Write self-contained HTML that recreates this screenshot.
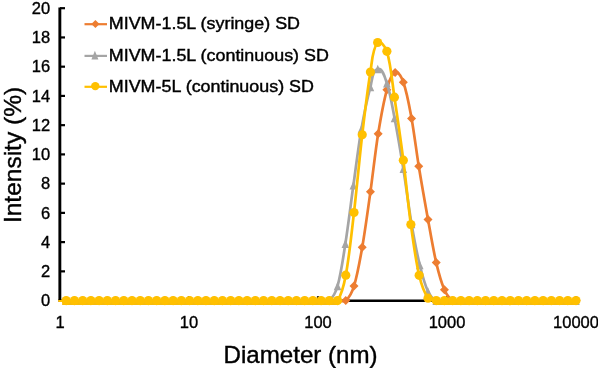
<!DOCTYPE html><html><head><meta charset="utf-8"><title>Intensity vs Diameter</title><style>html,body{margin:0;padding:0;background:#fff}</style></head><body><svg width="598" height="368" viewBox="0 0 598 368" style="display:block;font-family:'Liberation Sans',Arial,Helvetica,sans-serif">
<rect width="598" height="368" fill="#fff"/>
<g stroke="#000" stroke-width="2.9" fill="none">
<path d="M58.4 300.7H577.3" stroke-width="2.4"/>
</g><g stroke="#000" stroke-width="2.2" fill="none">
<path d="M60 300.60H65"/>
<path d="M60 271.36H65"/>
<path d="M60 242.12H65"/>
<path d="M60 212.88H65"/>
<path d="M60 183.64H65"/>
<path d="M60 154.40H65"/>
<path d="M60 125.16H65"/>
<path d="M60 95.92H65"/>
<path d="M60 66.68H65"/>
<path d="M60 37.44H65"/>
<path d="M60 8.20H65"/>
<path d="M189.00 300.7V296.2"/>
<path d="M318.00 300.7V296.2"/>
<path d="M447.00 300.7V296.2"/>
<path d="M576.00 300.7V296.2"/>
</g>
<g font-size="16.5" fill="#000" stroke="#000" stroke-width="0.35" text-anchor="end">
<text x="50.1" y="306.30">0</text>
<text x="50.1" y="277.06">2</text>
<text x="50.1" y="247.82">4</text>
<text x="50.1" y="218.58">6</text>
<text x="50.1" y="189.34">8</text>
<text x="50.1" y="160.10">10</text>
<text x="50.1" y="130.86">12</text>
<text x="50.1" y="101.62">14</text>
<text x="50.1" y="72.38">16</text>
<text x="50.1" y="43.14">18</text>
<text x="50.1" y="13.90">20</text>
</g>
<g font-size="16.5" fill="#000" stroke="#000" stroke-width="0.35" text-anchor="middle">
<text x="60.00" y="327.5">1</text>
<text x="189.00" y="327.5">10</text>
<text x="318.00" y="327.5">100</text>
<text x="447.00" y="327.5">1000</text>
<text x="576.00" y="327.5">10000</text>
</g>
<text x="300.6" y="362.5" font-size="24.1" text-anchor="middle" fill="#000" stroke="#000" stroke-width="0.4">Diameter (nm)</text>
<text transform="translate(20.6 155.0) rotate(-90)" font-size="24.5" text-anchor="middle" fill="#000" stroke="#000" stroke-width="0.4">Intensity (%)</text>
<path d="M58.4 300.60L66.20 300.60L74.44 300.60L82.68 300.60L90.90 300.60L99.11 300.60L107.34 300.60L115.56 300.60L123.78 300.60L132.00 300.60L140.23 300.60L148.45 300.60L156.67 300.60L164.89 300.60L173.11 300.60L181.33 300.60L189.56 300.60L197.80 300.60L205.98 300.60L214.24 300.60L222.46 300.60L230.67 300.60L238.88 300.60L247.10 300.60L255.33 300.60L263.56 300.60L271.78 300.60L280.00 300.60L288.22 300.60L296.44 300.60L304.67 300.60L312.89 300.60L321.11 300.60L329.32 300.60L337.57 300.60C340.03 300.60 343.94 302.23 345.78 300.60C349.53 297.29 352.52 290.88 353.99 286.10C357.50 274.73 360.18 259.02 362.22 247.30C365.12 230.69 368.10 208.40 370.44 191.70C372.88 174.32 375.37 151.03 378.16 133.70C380.30 120.44 383.31 102.74 386.89 89.80C388.43 84.23 389.88 74.82 395.12 72.40C398.60 70.79 402.05 78.59 403.34 82.20C407.09 92.69 409.55 107.45 411.56 118.40C414.18 132.69 416.44 151.96 418.77 166.30C421.37 182.26 425.12 203.49 428.00 219.40C430.35 232.38 433.22 249.75 436.22 262.60C438.16 270.90 441.06 281.97 444.44 289.80C446.06 293.53 449.24 298.37 452.64 300.60C454.71 301.96 458.41 300.60 460.87 300.60L469.11 300.60L477.32 300.60L485.55 300.60L493.78 300.60L502.00 300.60L510.22 300.60L518.45 300.60L526.66 300.60L534.89 300.60L543.11 300.60L551.34 300.60L559.55 300.60L567.78 300.60L576.00 300.60" fill="none" stroke="#ED7D31" stroke-width="2.7" stroke-linejoin="round" stroke-linecap="butt"/>
<g fill="#ED7D31"><path d="M66.20 296.10l4.50 4.50l-4.50 4.50l-4.50 -4.50z"/><path d="M74.44 296.10l4.50 4.50l-4.50 4.50l-4.50 -4.50z"/><path d="M82.68 296.10l4.50 4.50l-4.50 4.50l-4.50 -4.50z"/><path d="M90.90 296.10l4.50 4.50l-4.50 4.50l-4.50 -4.50z"/><path d="M99.11 296.10l4.50 4.50l-4.50 4.50l-4.50 -4.50z"/><path d="M107.34 296.10l4.50 4.50l-4.50 4.50l-4.50 -4.50z"/><path d="M115.56 296.10l4.50 4.50l-4.50 4.50l-4.50 -4.50z"/><path d="M123.78 296.10l4.50 4.50l-4.50 4.50l-4.50 -4.50z"/><path d="M132.00 296.10l4.50 4.50l-4.50 4.50l-4.50 -4.50z"/><path d="M140.23 296.10l4.50 4.50l-4.50 4.50l-4.50 -4.50z"/><path d="M148.45 296.10l4.50 4.50l-4.50 4.50l-4.50 -4.50z"/><path d="M156.67 296.10l4.50 4.50l-4.50 4.50l-4.50 -4.50z"/><path d="M164.89 296.10l4.50 4.50l-4.50 4.50l-4.50 -4.50z"/><path d="M173.11 296.10l4.50 4.50l-4.50 4.50l-4.50 -4.50z"/><path d="M181.33 296.10l4.50 4.50l-4.50 4.50l-4.50 -4.50z"/><path d="M189.56 296.10l4.50 4.50l-4.50 4.50l-4.50 -4.50z"/><path d="M197.80 296.10l4.50 4.50l-4.50 4.50l-4.50 -4.50z"/><path d="M205.98 296.10l4.50 4.50l-4.50 4.50l-4.50 -4.50z"/><path d="M214.24 296.10l4.50 4.50l-4.50 4.50l-4.50 -4.50z"/><path d="M222.46 296.10l4.50 4.50l-4.50 4.50l-4.50 -4.50z"/><path d="M230.67 296.10l4.50 4.50l-4.50 4.50l-4.50 -4.50z"/><path d="M238.88 296.10l4.50 4.50l-4.50 4.50l-4.50 -4.50z"/><path d="M247.10 296.10l4.50 4.50l-4.50 4.50l-4.50 -4.50z"/><path d="M255.33 296.10l4.50 4.50l-4.50 4.50l-4.50 -4.50z"/><path d="M263.56 296.10l4.50 4.50l-4.50 4.50l-4.50 -4.50z"/><path d="M271.78 296.10l4.50 4.50l-4.50 4.50l-4.50 -4.50z"/><path d="M280.00 296.10l4.50 4.50l-4.50 4.50l-4.50 -4.50z"/><path d="M288.22 296.10l4.50 4.50l-4.50 4.50l-4.50 -4.50z"/><path d="M296.44 296.10l4.50 4.50l-4.50 4.50l-4.50 -4.50z"/><path d="M304.67 296.10l4.50 4.50l-4.50 4.50l-4.50 -4.50z"/><path d="M312.89 296.10l4.50 4.50l-4.50 4.50l-4.50 -4.50z"/><path d="M321.11 296.10l4.50 4.50l-4.50 4.50l-4.50 -4.50z"/><path d="M329.32 296.10l4.50 4.50l-4.50 4.50l-4.50 -4.50z"/><path d="M337.57 296.10l4.50 4.50l-4.50 4.50l-4.50 -4.50z"/><path d="M345.78 296.10l4.50 4.50l-4.50 4.50l-4.50 -4.50z"/><path d="M353.99 281.60l4.50 4.50l-4.50 4.50l-4.50 -4.50z"/><path d="M362.22 242.80l4.50 4.50l-4.50 4.50l-4.50 -4.50z"/><path d="M370.44 187.20l4.50 4.50l-4.50 4.50l-4.50 -4.50z"/><path d="M378.16 129.20l4.50 4.50l-4.50 4.50l-4.50 -4.50z"/><path d="M386.89 85.30l4.50 4.50l-4.50 4.50l-4.50 -4.50z"/><path d="M395.12 67.90l4.50 4.50l-4.50 4.50l-4.50 -4.50z"/><path d="M403.34 77.70l4.50 4.50l-4.50 4.50l-4.50 -4.50z"/><path d="M411.56 113.90l4.50 4.50l-4.50 4.50l-4.50 -4.50z"/><path d="M418.77 161.80l4.50 4.50l-4.50 4.50l-4.50 -4.50z"/><path d="M428.00 214.90l4.50 4.50l-4.50 4.50l-4.50 -4.50z"/><path d="M436.22 258.10l4.50 4.50l-4.50 4.50l-4.50 -4.50z"/><path d="M444.44 285.30l4.50 4.50l-4.50 4.50l-4.50 -4.50z"/><path d="M452.64 296.10l4.50 4.50l-4.50 4.50l-4.50 -4.50z"/><path d="M460.87 296.10l4.50 4.50l-4.50 4.50l-4.50 -4.50z"/><path d="M469.11 296.10l4.50 4.50l-4.50 4.50l-4.50 -4.50z"/><path d="M477.32 296.10l4.50 4.50l-4.50 4.50l-4.50 -4.50z"/><path d="M485.55 296.10l4.50 4.50l-4.50 4.50l-4.50 -4.50z"/><path d="M493.78 296.10l4.50 4.50l-4.50 4.50l-4.50 -4.50z"/><path d="M502.00 296.10l4.50 4.50l-4.50 4.50l-4.50 -4.50z"/><path d="M510.22 296.10l4.50 4.50l-4.50 4.50l-4.50 -4.50z"/><path d="M518.45 296.10l4.50 4.50l-4.50 4.50l-4.50 -4.50z"/><path d="M526.66 296.10l4.50 4.50l-4.50 4.50l-4.50 -4.50z"/><path d="M534.89 296.10l4.50 4.50l-4.50 4.50l-4.50 -4.50z"/><path d="M543.11 296.10l4.50 4.50l-4.50 4.50l-4.50 -4.50z"/><path d="M551.34 296.10l4.50 4.50l-4.50 4.50l-4.50 -4.50z"/><path d="M559.55 296.10l4.50 4.50l-4.50 4.50l-4.50 -4.50z"/><path d="M567.78 296.10l4.50 4.50l-4.50 4.50l-4.50 -4.50z"/><path d="M576.00 296.10l4.50 4.50l-4.50 4.50l-4.50 -4.50z"/></g>
<path d="M58.4 300.60L66.20 300.60L74.44 300.60L82.68 300.60L90.90 300.60L99.11 300.60L107.34 300.60L115.56 300.60L123.78 300.60L132.00 300.60L140.23 300.60L148.45 300.60L156.67 300.60L164.89 300.60L173.11 300.60L181.33 300.60L189.56 300.60L197.80 300.60L205.98 300.60L214.24 300.60L222.46 300.60L230.67 300.60L238.88 300.60L247.10 300.60L255.33 300.60L263.56 300.60L271.78 300.60L280.00 300.60L288.22 300.60L296.44 300.60L304.67 300.60L312.89 300.60L321.11 300.60C323.57 300.60 327.48 302.24 329.32 300.60C333.09 297.26 336.20 290.84 337.57 286.00C341.07 273.55 343.38 256.38 345.38 243.60C348.12 226.16 350.94 202.78 353.39 185.30C355.75 168.40 358.51 145.81 361.42 129.00C363.63 116.30 367.06 99.43 370.44 87.00C371.98 81.38 372.08 70.28 377.76 69.00C382.73 67.88 385.24 78.48 386.89 83.30C390.34 93.39 392.50 107.53 394.52 118.00C397.44 133.19 400.88 153.53 403.34 168.80C405.99 185.33 408.74 207.50 411.56 224.00C413.67 236.37 416.80 252.81 419.77 265.00C421.74 273.09 424.51 283.94 428.00 291.50C429.54 294.84 433.00 298.82 436.22 300.60C438.38 301.79 441.98 300.60 444.44 300.60L452.64 300.60L460.87 300.60L469.11 300.60L477.32 300.60L485.55 300.60L493.78 300.60L502.00 300.60L510.22 300.60L518.45 300.60L526.66 300.60L534.89 300.60L543.11 300.60L551.34 300.60L559.55 300.60L567.78 300.60L576.00 300.60" fill="none" stroke="#A5A5A5" stroke-width="2.7" stroke-linejoin="round" stroke-linecap="butt"/>
<g fill="#A5A5A5"><path d="M66.20 296.30l3.78 8.60h-7.57z"/><path d="M74.44 296.30l3.78 8.60h-7.57z"/><path d="M82.68 296.30l3.78 8.60h-7.57z"/><path d="M90.90 296.30l3.78 8.60h-7.57z"/><path d="M99.11 296.30l3.78 8.60h-7.57z"/><path d="M107.34 296.30l3.78 8.60h-7.57z"/><path d="M115.56 296.30l3.78 8.60h-7.57z"/><path d="M123.78 296.30l3.78 8.60h-7.57z"/><path d="M132.00 296.30l3.78 8.60h-7.57z"/><path d="M140.23 296.30l3.78 8.60h-7.57z"/><path d="M148.45 296.30l3.78 8.60h-7.57z"/><path d="M156.67 296.30l3.78 8.60h-7.57z"/><path d="M164.89 296.30l3.78 8.60h-7.57z"/><path d="M173.11 296.30l3.78 8.60h-7.57z"/><path d="M181.33 296.30l3.78 8.60h-7.57z"/><path d="M189.56 296.30l3.78 8.60h-7.57z"/><path d="M197.80 296.30l3.78 8.60h-7.57z"/><path d="M205.98 296.30l3.78 8.60h-7.57z"/><path d="M214.24 296.30l3.78 8.60h-7.57z"/><path d="M222.46 296.30l3.78 8.60h-7.57z"/><path d="M230.67 296.30l3.78 8.60h-7.57z"/><path d="M238.88 296.30l3.78 8.60h-7.57z"/><path d="M247.10 296.30l3.78 8.60h-7.57z"/><path d="M255.33 296.30l3.78 8.60h-7.57z"/><path d="M263.56 296.30l3.78 8.60h-7.57z"/><path d="M271.78 296.30l3.78 8.60h-7.57z"/><path d="M280.00 296.30l3.78 8.60h-7.57z"/><path d="M288.22 296.30l3.78 8.60h-7.57z"/><path d="M296.44 296.30l3.78 8.60h-7.57z"/><path d="M304.67 296.30l3.78 8.60h-7.57z"/><path d="M312.89 296.30l3.78 8.60h-7.57z"/><path d="M321.11 296.30l3.78 8.60h-7.57z"/><path d="M329.32 296.30l3.78 8.60h-7.57z"/><path d="M337.57 281.70l3.78 8.60h-7.57z"/><path d="M345.38 239.30l3.78 8.60h-7.57z"/><path d="M353.39 181.00l3.78 8.60h-7.57z"/><path d="M361.42 124.70l3.78 8.60h-7.57z"/><path d="M370.44 82.70l3.78 8.60h-7.57z"/><path d="M377.76 64.70l3.78 8.60h-7.57z"/><path d="M386.89 79.00l3.78 8.60h-7.57z"/><path d="M394.52 113.70l3.78 8.60h-7.57z"/><path d="M403.34 164.50l3.78 8.60h-7.57z"/><path d="M411.56 219.70l3.78 8.60h-7.57z"/><path d="M419.77 260.70l3.78 8.60h-7.57z"/><path d="M428.00 287.20l3.78 8.60h-7.57z"/><path d="M436.22 296.30l3.78 8.60h-7.57z"/><path d="M444.44 296.30l3.78 8.60h-7.57z"/><path d="M452.64 296.30l3.78 8.60h-7.57z"/><path d="M460.87 296.30l3.78 8.60h-7.57z"/><path d="M469.11 296.30l3.78 8.60h-7.57z"/><path d="M477.32 296.30l3.78 8.60h-7.57z"/><path d="M485.55 296.30l3.78 8.60h-7.57z"/><path d="M493.78 296.30l3.78 8.60h-7.57z"/><path d="M502.00 296.30l3.78 8.60h-7.57z"/><path d="M510.22 296.30l3.78 8.60h-7.57z"/><path d="M518.45 296.30l3.78 8.60h-7.57z"/><path d="M526.66 296.30l3.78 8.60h-7.57z"/><path d="M534.89 296.30l3.78 8.60h-7.57z"/><path d="M543.11 296.30l3.78 8.60h-7.57z"/><path d="M551.34 296.30l3.78 8.60h-7.57z"/><path d="M559.55 296.30l3.78 8.60h-7.57z"/><path d="M567.78 296.30l3.78 8.60h-7.57z"/><path d="M576.00 296.30l3.78 8.60h-7.57z"/></g>
<path d="M58.4 300.60L66.20 300.60L74.44 300.60L82.68 300.60L90.90 300.60L99.11 300.60L107.34 300.60L115.56 300.60L123.78 300.60L132.00 300.60L140.23 300.60L148.45 300.60L156.67 300.60L164.89 300.60L173.11 300.60L181.33 300.60L189.56 300.60L197.80 300.60L205.98 300.60L214.24 300.60L222.46 300.60L230.67 300.60L238.88 300.60L247.10 300.60L255.33 300.60L263.56 300.60L271.78 300.60L280.00 300.60L288.22 300.60L296.44 300.60L304.67 300.60L312.89 300.60L321.11 300.60L329.32 300.60C331.80 300.60 336.22 302.68 337.57 300.60C341.92 293.88 344.32 283.07 345.78 275.20C349.26 256.55 351.78 231.34 353.99 212.50C356.71 189.22 359.50 158.08 362.22 134.80C364.43 115.93 367.31 90.74 370.44 72.00C371.95 63.01 372.00 49.63 377.66 42.50C380.04 39.51 385.77 47.64 386.89 51.30C390.98 64.64 392.33 83.40 394.42 97.20C397.27 116.07 400.89 141.27 403.34 160.20C405.82 179.46 408.21 205.26 410.86 224.50C412.96 239.80 415.68 260.26 419.17 275.30C420.84 282.47 423.89 292.09 428.00 298.20C429.44 300.33 433.68 300.23 436.22 300.60C438.66 300.96 441.98 300.60 444.44 300.60L452.64 300.60L460.87 300.60L469.11 300.60L477.32 300.60L485.55 300.60L493.78 300.60L502.00 300.60L510.22 300.60L518.45 300.60L526.66 300.60L534.89 300.60L543.11 300.60L551.34 300.60L559.55 300.60L567.78 300.60L576.00 300.60" fill="none" stroke="#FFC000" stroke-width="2.7" stroke-linejoin="round" stroke-linecap="butt"/>
<path d="M62.2 300.6H337.6V305.1H62.2zM436.3 300.6H576V305.1H436.3z" fill="#F7BB0C"/>
<g fill="#FFC000"><circle cx="66.20" cy="300.60" r="4.60"/><circle cx="74.44" cy="300.60" r="4.60"/><circle cx="82.68" cy="300.60" r="4.60"/><circle cx="90.90" cy="300.60" r="4.60"/><circle cx="99.11" cy="300.60" r="4.60"/><circle cx="107.34" cy="300.60" r="4.60"/><circle cx="115.56" cy="300.60" r="4.60"/><circle cx="123.78" cy="300.60" r="4.60"/><circle cx="132.00" cy="300.60" r="4.60"/><circle cx="140.23" cy="300.60" r="4.60"/><circle cx="148.45" cy="300.60" r="4.60"/><circle cx="156.67" cy="300.60" r="4.60"/><circle cx="164.89" cy="300.60" r="4.60"/><circle cx="173.11" cy="300.60" r="4.60"/><circle cx="181.33" cy="300.60" r="4.60"/><circle cx="189.56" cy="300.60" r="4.60"/><circle cx="197.80" cy="300.60" r="4.60"/><circle cx="205.98" cy="300.60" r="4.60"/><circle cx="214.24" cy="300.60" r="4.60"/><circle cx="222.46" cy="300.60" r="4.60"/><circle cx="230.67" cy="300.60" r="4.60"/><circle cx="238.88" cy="300.60" r="4.60"/><circle cx="247.10" cy="300.60" r="4.60"/><circle cx="255.33" cy="300.60" r="4.60"/><circle cx="263.56" cy="300.60" r="4.60"/><circle cx="271.78" cy="300.60" r="4.60"/><circle cx="280.00" cy="300.60" r="4.60"/><circle cx="288.22" cy="300.60" r="4.60"/><circle cx="296.44" cy="300.60" r="4.60"/><circle cx="304.67" cy="300.60" r="4.60"/><circle cx="312.89" cy="300.60" r="4.60"/><circle cx="321.11" cy="300.60" r="4.60"/><circle cx="329.32" cy="300.60" r="4.60"/><circle cx="337.57" cy="300.60" r="4.60"/><circle cx="345.78" cy="275.20" r="4.60"/><circle cx="353.99" cy="212.50" r="4.60"/><circle cx="362.22" cy="134.80" r="4.60"/><circle cx="370.44" cy="72.00" r="4.60"/><circle cx="377.66" cy="42.50" r="4.60"/><circle cx="386.89" cy="51.30" r="4.60"/><circle cx="394.42" cy="97.20" r="4.60"/><circle cx="403.34" cy="160.20" r="4.60"/><circle cx="410.86" cy="224.50" r="4.60"/><circle cx="419.17" cy="275.30" r="4.60"/><circle cx="428.00" cy="298.20" r="4.60"/><circle cx="436.22" cy="300.60" r="4.60"/><circle cx="444.44" cy="300.60" r="4.60"/><circle cx="452.64" cy="300.60" r="4.60"/><circle cx="460.87" cy="300.60" r="4.60"/><circle cx="469.11" cy="300.60" r="4.60"/><circle cx="477.32" cy="300.60" r="4.60"/><circle cx="485.55" cy="300.60" r="4.60"/><circle cx="493.78" cy="300.60" r="4.60"/><circle cx="502.00" cy="300.60" r="4.60"/><circle cx="510.22" cy="300.60" r="4.60"/><circle cx="518.45" cy="300.60" r="4.60"/><circle cx="526.66" cy="300.60" r="4.60"/><circle cx="534.89" cy="300.60" r="4.60"/><circle cx="543.11" cy="300.60" r="4.60"/><circle cx="551.34" cy="300.60" r="4.60"/><circle cx="559.55" cy="300.60" r="4.60"/><circle cx="567.78" cy="300.60" r="4.60"/><circle cx="576.00" cy="300.60" r="4.60"/></g>
<path d="M59.85 7.4V300.1" stroke="#000" stroke-width="2.9" fill="none"/>
<path d="M84.5 24.20H107" stroke="#ED7D31" stroke-width="2.2"/>
<g fill="#ED7D31"><path d="M95.40 19.90l4.10 4.10l-4.10 4.10l-4.10 -4.10z"/></g>
<text transform="translate(108.8 29.20) scale(1.0915 1)" font-size="16.4" fill="#000" stroke="#000" stroke-width="0.4">MIVM-1.5L (syringe) SD</text>
<path d="M84.5 55.90H107" stroke="#A5A5A5" stroke-width="2.2"/>
<g fill="#A5A5A5"><path d="M94.90 50.80l3.50 8.60h-7.00z"/></g>
<text transform="translate(108.8 60.90) scale(1.0915 1)" font-size="16.4" fill="#000" stroke="#000" stroke-width="0.4">MIVM-1.5L (continuous) SD</text>
<path d="M84.5 86.80H107" stroke="#FFC000" stroke-width="2.2"/>
<g fill="#FFC000"><circle cx="95.30" cy="86.10" r="4.20"/></g>
<text transform="translate(108.8 91.80) scale(1.0915 1)" font-size="16.4" fill="#000" stroke="#000" stroke-width="0.4">MIVM-5L (continuous) SD</text>
</svg></body></html>
